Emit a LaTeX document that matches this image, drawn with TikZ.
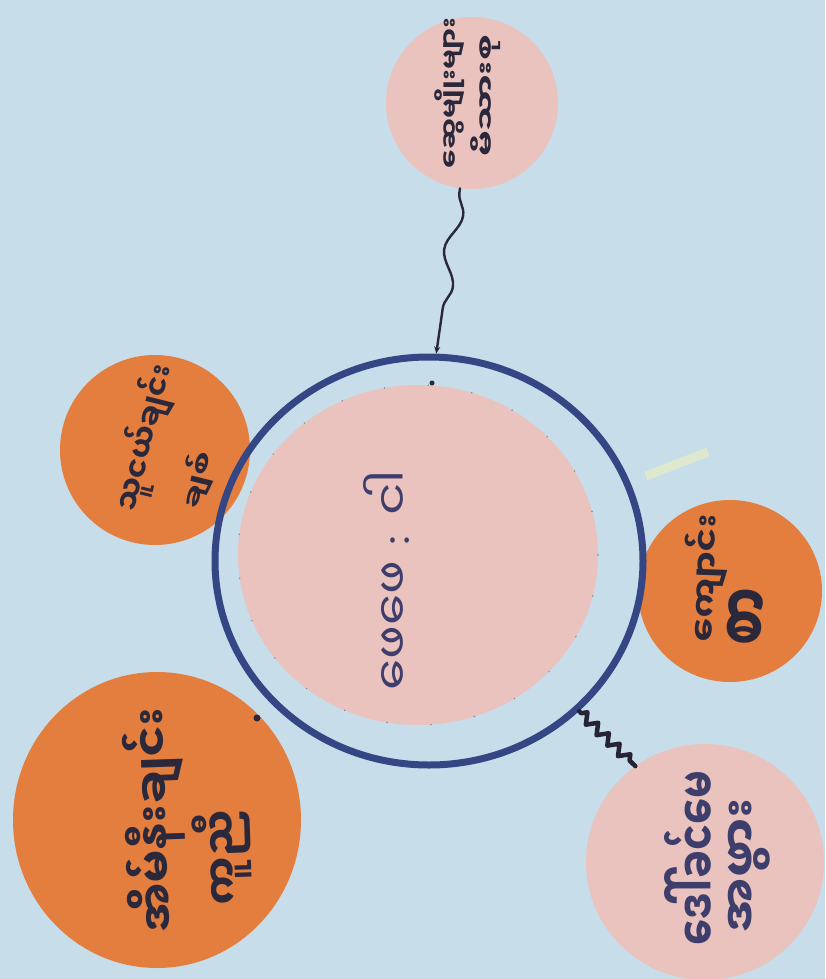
\documentclass[tikz,border=0pt]{standalone}
\usepackage{fontspec}
\usepackage{graphicx}
\usetikzlibrary{shapes.geometric,decorations.pathmorphing,arrows.meta}
\newfontfamily\my[Script=Myanmar]{Noto Sans Myanmar UI}
\newcommand{\fitline}[3]{\resizebox*{#1}{#2}{#3}}
\definecolor{bg}{RGB}{199,221,234}
\definecolor{pinkc}{RGB}{234,194,190}
\definecolor{orangec}{RGB}{228,126,62}
\definecolor{navy}{RGB}{52,70,132}
\definecolor{ink}{RGB}{42,40,58}
\definecolor{penink}{RGB}{62,62,108}
\definecolor{tape}{RGB}{222,232,205}
\begin{document}
\begin{tikzpicture}[x=1pt,y=-1pt,
  disc/.style={ellipse, inner sep=0pt, draw=none},
  pinkdisc/.style={disc, fill=pinkc},
  orangedisc/.style={disc, fill=orangec},
  label/.style={inner sep=0pt, text=ink, font=\my\bfseries},
  wavy/.style={draw=ink, line width=2.4pt, line cap=round},
  squig/.style={draw=ink!90!black, line width=4.5pt, line join=round, line cap=round}
]
\fill[bg] (0,0) rectangle (825,979);
\useasboundingbox (0,0) rectangle (825,979);

% circles
\node[pinkdisc, minimum width=172pt, minimum height=172pt] (pt) at (472,103) {};
\node[orangedisc, minimum width=190pt, minimum height=190pt] (otl) at (155,450) {};
\node[orangedisc, minimum width=184pt, minimum height=182pt] (omr) at (730,591) {};
\node[orangedisc, minimum width=288pt, minimum height=296pt] (obl) at (157,820) {};
\node[pinkdisc, minimum width=238pt, minimum height=236pt] (pbr) at (705,862) {};
\node[pinkdisc, draw=ink!55, line width=1.6pt, line cap=round, dash pattern=on 0.1pt off 44pt,
      minimum width=360pt, minimum height=340pt] (inner) at (418,555) {};
\node[ellipse, draw=navy, line width=7pt, minimum width=428pt, minimum height=408pt, inner sep=0pt] (ring) at (429,561) {};

% faint tape mark
\coordinate (tapeA) at (646,476);
\coordinate (tapeB) at (708,452);
\draw[tape, line width=9pt] (tapeA) -- (tapeB);

% small dots
\coordinate (dotA) at (432,383);
\coordinate (dotB) at (257,718);
\fill[ink] (dotA) circle (2.5pt);
\fill[ink] (dotB) circle (3.5pt);

% connectors
\draw[wavy, decorate, decoration={snake, amplitude=7pt, segment length=72pt, pre length=4pt, post length=40pt},
      -{Stealth[length=7pt,width=6pt]}] (pt.262) -- (ring.88);
\draw[squig, decorate, decoration={zigzag, amplitude=5pt, segment length=15pt, pre length=3pt, post length=3pt}]
      (ring.-45) -- (pbr.126);

% texts (read from bottom to top)
\node[inner sep=0pt, text=penink, rotate=90] (tc) at (386,580)
  {\fitline{220pt}{46pt}{\my ဖေဖေ {\rmfamily :} ငါ}};

\node[label, rotate=90] (tpa) at (450,93) {\fitline{150pt}{30pt}{ဆွေမျိုးများ}};
\node[label, rotate=90] (tpb) at (486,96) {\fitline{122pt}{30pt}{မိသားစု}};

\node[label, rotate=76] (tla) at (145,438) {\fitline{150pt}{42pt}{သူငယ်ချင်း}};
\node[label, rotate=76] (tlb) at (198,480) {\fitline{58pt}{32pt}{ချစ်}};

\node[label, rotate=88] (tma) at (706,578) {\fitline{128pt}{44pt}{ကျောင်း}};
\node[label, rotate=88] (tmb) at (750,617) {\fitline{58pt}{44pt}{စာ}};

\node[label, rotate=92] (tba) at (155,820) {\fitline{225pt}{60pt}{အိမ်နီးချင်း}};
\node[label, rotate=92] (tbb) at (222,858) {\fitline{95pt}{58pt}{ကူညီ}};

\node[label, rotate=90, text=penink] (tra) at (691,858) {\fitline{175pt}{54pt}{ဒေါ်ခင်မေ}};
\node[label, rotate=90, text=penink] (trb) at (749,865) {\fitline{134pt}{42pt}{အဖွား}};
\end{tikzpicture}
\end{document}
